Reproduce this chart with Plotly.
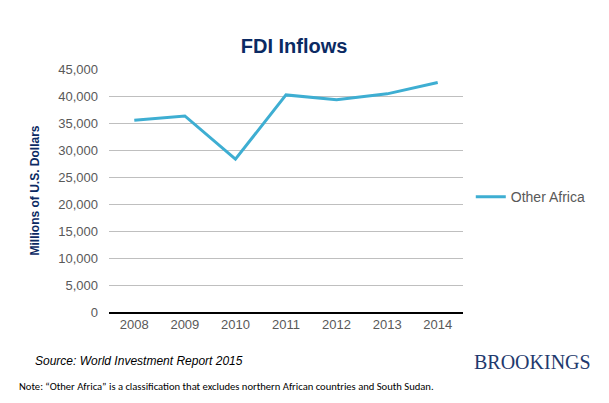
import plotly.graph_objects as go

years = ["2008", "2009", "2010", "2011", "2012", "2013", "2014"]
other_africa = [35500, 36300, 28300, 40200, 39300, 40400, 42500]
y_ticks = [0, 5000, 10000, 15000, 20000, 25000, 30000, 35000, 40000, 45000]
y_tick_labels = ["0", "5,000", "10,000", "15,000", "20,000", "25,000", "30,000", "35,000", "40,000", "45,000"]

navy = "#0b2a63"

fig = go.Figure()
fig.add_trace(go.Scatter(
    x=years, y=other_africa, mode="lines", name="Other Africa",
    line=dict(color="#3eaed2", width=3),
))

fig.update_layout(
    width=601, height=395,
    margin=dict(l=101, r=146, t=61, b=91),
    paper_bgcolor="white", plot_bgcolor="white",
    font=dict(family="Liberation Sans, Arial, sans-serif", color="#595959", size=13),
    title=dict(text="<b>FDI Inflows</b>", x=0.476, xanchor="center", y=0.905, yanchor="middle",
               font=dict(size=20, color=navy)),
    showlegend=True,
    legend=dict(x=1.022, xanchor="left", y=0.473, yanchor="middle",
                font=dict(size=14, color="#595959"), bgcolor="rgba(0,0,0,0)",
                itemwidth=30),
    xaxis=dict(type="category", range=[-0.5, 6.5], showgrid=False,
               showline=True, linecolor="black", linewidth=1.5,
               ticks="", tickfont=dict(size=13, color="#595959")),
    yaxis=dict(range=[0, 45000], tickvals=y_ticks, ticktext=y_tick_labels,
               showgrid=True, gridcolor="#bfbfbf", gridwidth=1, zeroline=False,
               ticks="", ticklabelstandoff=10, tickfont=dict(size=13, color="#595959"),
               title=dict(text="<b>Millions of U.S. Dollars</b>", standoff=16,
                          font=dict(size=12, color=navy))),
)

# paper coords: x_px = 109 + 354*x ; y_px = 312 - 243*y
fig.add_annotation(xref="paper", yref="paper", x=(33 - 109) / 354, y=(312 - 361) / 243,
                   xanchor="left", yanchor="middle",
                   text="<i>Source:</i> <i>World Investment Report 2015</i>", showarrow=False,
                   font=dict(size=12, color="black", family="Liberation Sans, Arial"))
fig.add_annotation(xref="paper", yref="paper", x=(17 - 109) / 354, y=(312 - 386) / 243,
                   xanchor="left", yanchor="middle",
                   text="Note: \u201cOther Africa\u201d is a classification that excludes northern African countries and South Sudan.",
                   showarrow=False,
                   font=dict(size=10.6, color="black", family="Carlito, Liberation Sans Narrow, Liberation Sans"))
fig.add_annotation(xref="paper", yref="paper", x=(593 - 109) / 354, y=(312 - 362) / 243,
                   xanchor="right", yanchor="middle",
                   text="BROOKINGS", showarrow=False,
                   font=dict(size=20, color="#1f3a6e", family="Liberation Serif, serif"))

fig.write_html("out.html")
